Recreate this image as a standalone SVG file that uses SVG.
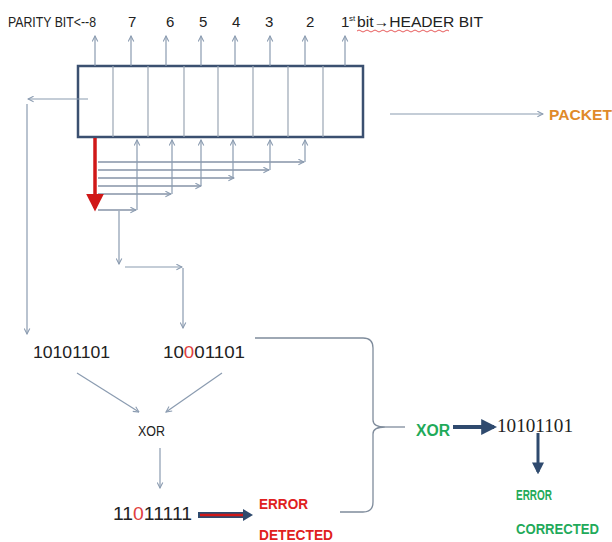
<svg xmlns="http://www.w3.org/2000/svg" width="612" height="542" viewBox="0 0 612 542">
<defs>
<style>
.t{font-family:"Liberation Sans","DejaVu Sans",sans-serif;fill:#222}
.g{stroke:#8a9bb0;stroke-width:1.2;fill:none}
.b{font-family:"Liberation Sans","DejaVu Sans",sans-serif;font-weight:bold}
</style>
<marker id="ah" viewBox="0 0 10 10" refX="9" refY="5" markerWidth="7" markerHeight="7" orient="auto" markerUnits="userSpaceOnUse">
<path d="M1,1 L9,5 L1,9" fill="none" stroke="#8a9bb0" stroke-width="1.5"/>
</marker>
<marker id="ahr" viewBox="0 0 10 10" refX="8" refY="5" markerWidth="18" markerHeight="18" orient="auto" markerUnits="userSpaceOnUse">
<path d="M0,0 L10,5 L0,10 Z" fill="#d01818"/>
</marker>
<marker id="ahn" viewBox="0 0 10 10" refX="8" refY="5" markerWidth="4" markerHeight="4" orient="auto">
<path d="M0,0 L10,5 L0,10 Z" fill="#2f4a6e"/>
</marker>
</defs>
<rect width="612" height="542" fill="#fff"/>

<g id="top-labels">
<text class="t" x="8" y="27" font-size="15" textLength="88" lengthAdjust="spacingAndGlyphs">PARITY BIT&lt;--8</text>
<text class="t" x="128" y="27" font-size="15">7</text>
<text class="t" x="166" y="27" font-size="15">6</text>
<text class="t" x="199" y="27" font-size="15">5</text>
<text class="t" x="232" y="27" font-size="15">4</text>
<text class="t" x="265" y="27" font-size="15">3</text>
<text class="t" x="306" y="27" font-size="15">2</text>
<text class="t" x="341" y="27" font-size="15">1</text>
<text class="t" x="349" y="21" font-size="8">st</text>
<text class="t" x="357" y="27" font-size="15" textLength="126" lengthAdjust="spacingAndGlyphs">bit→HEADER BIT</text>
<path d="M357,31 q2,-2 4,0 t4,0 t4,0 t4,0 t4,0 t4,0 t4,0 t4,0 t4,0 t4,0 t4,0 t4,0 t4,0 t4,0 t4,0 t4,0 t4,0 t4,0 t4,0 t4,0 t4,0 t4,0 t4,0" fill="none" stroke="#e03030" stroke-width="0.8"/>
</g>

<g id="register">
<rect x="78" y="66" width="285" height="71" fill="#fff" stroke="#3b5070" stroke-width="2.5"/>
<g stroke="#9aa6b4" stroke-width="1.2">
<line x1="113" y1="66" x2="113" y2="137"/>
<line x1="148" y1="66" x2="148" y2="137"/>
<line x1="184" y1="66" x2="184" y2="137"/>
<line x1="218" y1="66" x2="218" y2="137"/>
<line x1="253" y1="66" x2="253" y2="137"/>
<line x1="288" y1="66" x2="288" y2="137"/>
<line x1="323" y1="66" x2="323" y2="137"/>
</g>
</g>

<g id="packet">
<text class="b" x="549" y="120" font-size="15" fill="#e08a2a" textLength="63" lengthAdjust="spacingAndGlyphs">PACKET</text>
</g>

<g id="received">
<text class="t" x="163" y="358" font-size="17" fill="#444" textLength="82" lengthAdjust="spacingAndGlyphs">10<tspan fill="#e04040">0</tspan>01101</text>
</g>
<g id="sent">
<text class="t" x="33" y="358" font-size="17" fill="#444" textLength="77" lengthAdjust="spacingAndGlyphs">10101101</text>
</g>
<g id="xor1">
<text class="t" x="138" y="436" font-size="15" fill="#333" textLength="27" lengthAdjust="spacingAndGlyphs">XOR</text>
</g>
<g id="result">
<text class="t" x="113" y="520" font-size="18" fill="#222" textLength="79" lengthAdjust="spacingAndGlyphs">11<tspan fill="#e04040">0</tspan>11111</text>
</g>
<g id="error-detected">
<text class="b" x="259" y="509" font-size="14" fill="#e02020" textLength="49" lengthAdjust="spacingAndGlyphs">ERROR</text>
<text class="b" x="259" y="540" font-size="14" fill="#e02020" textLength="74" lengthAdjust="spacingAndGlyphs">DETECTED</text>
</g>
<g id="xor2">
<text class="b" x="416" y="436" font-size="16" fill="#1faa5a" textLength="34" lengthAdjust="spacingAndGlyphs">XOR</text>
</g>
<g id="corrected-value">
<text x="497" y="432" font-size="18" fill="#222" font-family="'Liberation Serif',serif" textLength="76" lengthAdjust="spacingAndGlyphs">10101101</text>
</g>
<g id="error-corrected">
<text class="b" x="516" y="500" font-size="14" fill="#1faa5a" textLength="36" lengthAdjust="spacingAndGlyphs">ERROR</text>
<text class="b" x="516" y="534" font-size="14" fill="#1faa5a" textLength="83" lengthAdjust="spacingAndGlyphs">CORRECTED</text>
</g>

<g id="connectors">
<g class="g" marker-end="url(#ah)">
<line x1="95" y1="66" x2="95" y2="36"/>
<line x1="131" y1="66" x2="131" y2="36"/>
<line x1="166" y1="66" x2="166" y2="36"/>
<line x1="201" y1="66" x2="201" y2="36"/>
<line x1="235" y1="66" x2="235" y2="36"/>
<line x1="270" y1="66" x2="270" y2="36"/>
<line x1="305" y1="66" x2="305" y2="36"/>
<line x1="345" y1="66" x2="345" y2="36"/>
</g>
<line class="g" x1="88" y1="99" x2="28" y2="99" marker-end="url(#ah)"/>
<line class="g" x1="27" y1="104" x2="27" y2="334" marker-end="url(#ah)"/>
<line class="g" x1="390" y1="114" x2="543" y2="114" marker-end="url(#ah)"/>
<g stroke="#4a5f7c" stroke-width="1.2" fill="none" marker-end="url(#ah)">
<line x1="98" y1="162" x2="304" y2="162"/>
<line x1="98" y1="170" x2="269" y2="170"/>
<line x1="98" y1="178" x2="234" y2="178"/>
<line x1="98" y1="186" x2="201" y2="186"/>
<line x1="98" y1="194" x2="171" y2="194"/>
<line x1="98" y1="210" x2="136" y2="210"/>
</g>
<g class="g" marker-end="url(#ah)">
<line x1="305" y1="162" x2="305" y2="140"/>
<line x1="270" y1="170" x2="270" y2="140"/>
<line x1="233" y1="178" x2="233" y2="140"/>
<line x1="201" y1="186" x2="201" y2="140"/>
<line x1="172" y1="194" x2="172" y2="140"/>
<line x1="137" y1="210" x2="137" y2="140"/>
</g>
<line x1="95" y1="138" x2="95" y2="208" stroke="#d01818" stroke-width="3.5" marker-end="url(#ahr)"/>
<line class="g" x1="119" y1="211" x2="119" y2="264" marker-end="url(#ah)"/>
<line class="g" x1="125" y1="267" x2="182" y2="267" marker-end="url(#ah)"/>
<line class="g" x1="183" y1="268" x2="183" y2="328" marker-end="url(#ah)"/>
<line class="g" x1="77" y1="373" x2="139" y2="412" marker-end="url(#ah)"/>
<line class="g" x1="222" y1="373" x2="166" y2="412" marker-end="url(#ah)"/>
<line class="g" x1="160" y1="448" x2="160" y2="488" marker-end="url(#ah)"/>
<line x1="198" y1="515" x2="246" y2="515" stroke="#2f4a6e" stroke-width="6"/>
<line x1="200" y1="515" x2="244" y2="515" stroke="#d01818" stroke-width="2.5"/>
<path d="M243,509 L253,515 L243,521 Z" fill="#2f4a6e"/>
<path d="M255,338 L363,338 Q373,338 373,348 L373,420 Q373,427 385,427 Q373,427 373,434 L373,502 Q373,512 363,512 L340,512" fill="none" stroke="#7f8c9c" stroke-width="1.3"/>
<line x1="385" y1="427" x2="405" y2="427" stroke="#7f8c9c" stroke-width="1.3"/>
<line x1="453" y1="427" x2="494" y2="427" stroke="#2f4a6e" stroke-width="4" marker-end="url(#ahn)"/>
<line x1="538" y1="433" x2="538" y2="472" stroke="#2f4a6e" stroke-width="3" marker-end="url(#ahn)"/>
</g>
</svg>
